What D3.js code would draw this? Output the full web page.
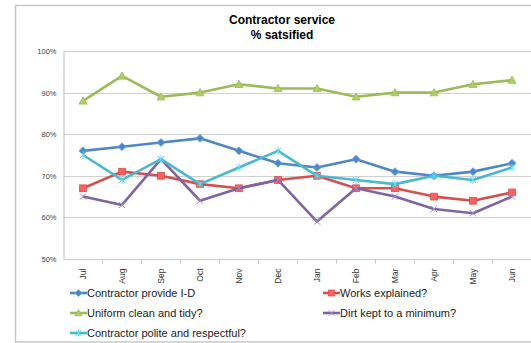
<!DOCTYPE html>
<html>
<head>
<meta charset="utf-8">
<script src="https://cdn.jsdelivr.net/npm/d3@7"></script>
<style>
  body { margin: 0; background: #fff; }
  svg { display: block; font-family: "Liberation Sans", Arial, sans-serif; }
</style>
</head>
<body>
<svg id="chart" width="531" height="343"></svg>
<script>
const months = ['Jul', 'Aug', 'Sep', 'Oct', 'Nov', 'Dec', 'Jan', 'Feb', 'Mar', 'Apr', 'May', 'Jun'];
const yTicks = [0.5, 0.6, 0.7, 0.8, 0.9, 1.0];

const provideID = [76, 77, 78, 79, 76, 73, 72, 74, 71, 70, 71, 73];
const worksExplained = [67, 71, 70, 68, 67, 69, 70, 67, 67, 65, 64, 66];
const uniformClean = [88, 94, 89, 90, 92, 91, 91, 89, 90, 90, 92, 93];
const dirtKept = [65, 63, 74, 64, 67, 69, 59, 67, 65, 62, 61, 65];
const politeRespectful = [75, 69, 74, 68, 72, 76, 70, 69, 68, 70, 69, 72];

const series = [
  { name: 'Contractor provide I-D', values: provideID, color: '#4F86C6', marker: 'diamond' },
  { name: 'Works explained?', values: worksExplained, color: '#D2504D', marker: 'square' },
  { name: 'Uniform clean and tidy?', values: uniformClean, color: '#9BBB59', marker: 'triangle' },
  { name: 'Dirt kept to a minimum?', values: dirtKept, color: '#8064A2', marker: 'x' },
  { name: 'Contractor polite and respectful?', values: politeRespectful, color: '#4BB8CC', marker: 'star' },
];

const svg = d3.select('#chart');

// outer chart frame
svg.append('rect')
  .attr('x', 15.5).attr('y', 5.5)
  .attr('width', 540).attr('height', 336.5)
  .attr('fill', 'none').attr('stroke', '#c8c8c8').attr('stroke-width', 1.5);

// title
svg.append('text').attr('x', 282).attr('y', 24)
  .attr('text-anchor', 'middle').attr('font-size', 12).attr('font-weight', 'bold')
  .text('Contractor service');
svg.append('text').attr('x', 282).attr('y', 39)
  .attr('text-anchor', 'middle').attr('font-size', 12).attr('font-weight', 'bold')
  .text('% satsified');

const plot = { left: 63.5, right: 531.5, top: 51, bottom: 259 };

const x = d3.scaleBand().domain(months).range([plot.left, plot.right]);
const y = d3.scaleLinear().domain([0.5, 1.0]).range([plot.bottom, plot.top]);

// gridlines
svg.append('g')
  .selectAll('line')
  .data(yTicks)
  .join('line')
  .attr('x1', plot.left).attr('x2', plot.right)
  .attr('y1', d => Math.round(y(d)) + 0.5).attr('y2', d => Math.round(y(d)) + 0.5)
  .attr('stroke', '#d0d0d0').attr('stroke-width', 1.2);

// y axis
const yAxis = d3.axisLeft(y).tickValues(yTicks).tickFormat(d3.format('.0%')).tickSize(0).tickPadding(7);
const gy = svg.append('g').attr('transform', `translate(${plot.left},0)`).call(yAxis);
gy.select('.domain').attr('stroke', '#c8c8c8').attr('stroke-width', 1.2);
gy.selectAll('text').attr('font-size', 7.5).attr('fill', '#444').attr('font-family', '"Liberation Sans", Arial, sans-serif');

// x axis: ticks at category boundaries
const gx = svg.append('g').attr('transform', `translate(0,${plot.bottom + 0.5})`);
gx.selectAll('line.tick')
  .data(months.slice(1))
  .join('line')
  .attr('class', 'tick')
  .attr('x1', d => x(d)).attr('x2', d => x(d))
  .attr('y1', 0).attr('y2', 4)
  .attr('stroke', '#c8c8c8').attr('stroke-width', 1.2);
gx.selectAll('text')
  .data(months)
  .join('text')
  .attr('transform', d => `translate(${x(d) + x.bandwidth() / 2 + 3},${9}) rotate(-90)`)
  .attr('text-anchor', 'end')
  .attr('font-size', 8.5).attr('fill', '#333')
  .text(d => d);

const line = d3.line()
  .x((d, i) => x(months[i]) + x.bandwidth() / 2)
  .y(d => y(d / 100));

function drawMarker(g, type, color, size) {
  const s = size;
  if (type === 'diamond') {
    g.append('path').attr('d', `M0,${-s}L${s},0L0,${s}L${-s},0Z`)
      .attr('fill', color).attr('stroke', d3.color(color).brighter(0.6)).attr('stroke-width', 0.8);
  } else if (type === 'square') {
    g.append('rect').attr('x', -s * 0.85).attr('y', -s * 0.85).attr('width', s * 1.7).attr('height', s * 1.7)
      .attr('fill', d3.color(color).brighter(0.5)).attr('stroke', color).attr('stroke-width', 0.8);
  } else if (type === 'triangle') {
    g.append('path').attr('d', `M0,${-s}L${s},${s * 0.8}L${-s},${s * 0.8}Z`)
      .attr('fill', d3.color(color).brighter(0.3)).attr('stroke', color).attr('stroke-width', 0.8);
  } else if (type === 'x') {
    g.append('path').attr('d', `M${-s * 0.8},${-s * 0.8}L${s * 0.8},${s * 0.8}M${-s * 0.8},${s * 0.8}L${s * 0.8},${-s * 0.8}`)
      .attr('stroke', d3.color(color).brighter(0.8)).attr('stroke-width', 1);
  } else if (type === 'star') {
    g.append('path').attr('d', `M${-s * 0.8},${-s * 0.8}L${s * 0.8},${s * 0.8}M${-s * 0.8},${s * 0.8}L${s * 0.8},${-s * 0.8}M0,${-s}L0,${s}`)
      .attr('stroke', d3.color(color).brighter(0.5)).attr('stroke-width', 1);
  }
}

series.forEach(s => {
  svg.append('path')
    .datum(s.values)
    .attr('d', line)
    .attr('fill', 'none')
    .attr('stroke', s.color)
    .attr('stroke-width', 2.6)
    .attr('stroke-linejoin', 'round');
  s.values.forEach((v, i) => {
    const g = svg.append('g')
      .attr('transform', `translate(${x(months[i]) + x.bandwidth() / 2},${y(v / 100)})`);
    drawMarker(g, s.marker, s.color, 4);
  });
});

// legend
const legendPos = [
  [70, 293], [323, 293],
  [70, 313], [323, 313],
  [70, 333],
];
series.forEach((s, i) => {
  const [lx, ly] = legendPos[i];
  const g = svg.append('g').attr('transform', `translate(${lx},${ly})`);
  g.append('line').attr('x1', 0).attr('x2', 17).attr('y1', 0).attr('y2', 0)
    .attr('stroke', s.color).attr('stroke-width', 2.6);
  const m = g.append('g').attr('transform', 'translate(8.5,0)');
  drawMarker(m, s.marker, s.color, 3.5);
  g.append('text').attr('x', 17).attr('y', 4)
    .attr('font-size', 11).attr('fill', '#222')
    .text(s.name);
});
</script>
</body>
</html>
